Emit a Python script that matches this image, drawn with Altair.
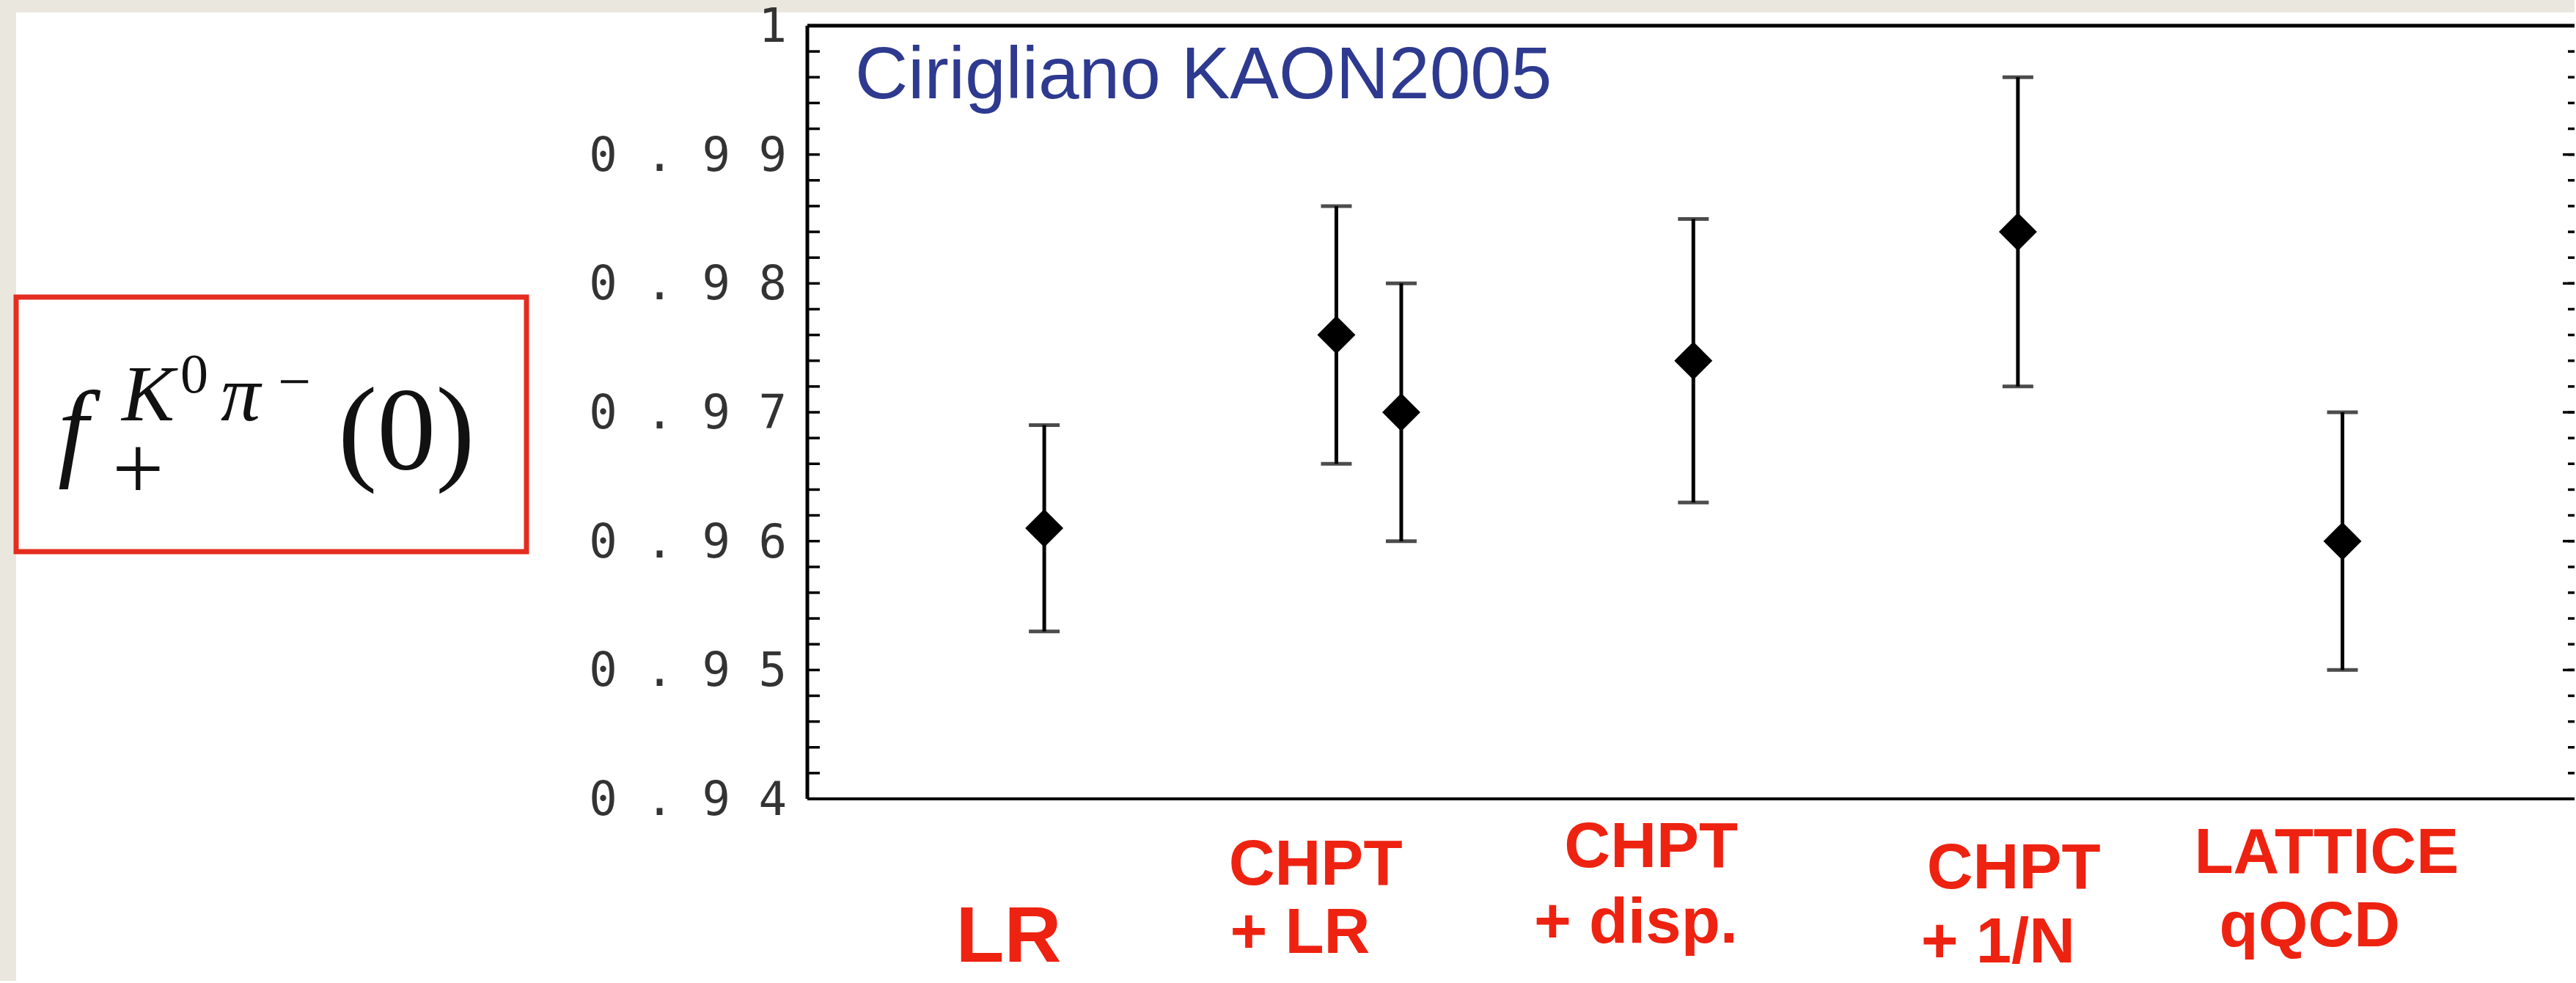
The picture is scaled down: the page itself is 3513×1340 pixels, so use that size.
import altair as alt
import pandas as pd

# ---------------- data ----------------
methods = ["LR", "CHPT + LR (a)", "CHPT + LR (b)", "CHPT + disp.", "CHPT + 1/N", "LATTICE qQCD"]
x_pos = [1.0, 1.9, 2.1, 3.0, 4.0, 5.0]
values = [0.961, 0.976, 0.970, 0.974, 0.984, 0.960]
lows = [0.953, 0.966, 0.960, 0.963, 0.972, 0.950]
highs = [0.969, 0.986, 0.980, 0.985, 0.996, 0.970]

major_ticks = [0.94, 0.95, 0.96, 0.97, 0.98, 0.99, 1.0]
tick_labels = ["0.94", "0.95", "0.96", "0.97", "0.98", "0.99", "1"]
minor_ticks = [round(0.94 + 0.002 * i, 3) for i in range(31)]

# category labels under the plot (text, centre in x-data units)
label_text = ["LR", "CHPT", "+ LR", "CHPT", "+ disp.", "CHPT", "+ 1/N", "LATTICE", "qQCD"]
label_x = [0.89, 1.836, 1.788, 2.87, 2.823, 3.987, 3.939, 4.951, 4.899]

title_text = "Cirigliano KAON2005"

# ---------------- layout ----------------
W, H = 2410, 1054
PAD = {"left": 1101, "top": 35, "right": 0, "bottom": 248}
label_baseline = [1276, 1171, 1264, 1147, 1250, 1176, 1277, 1155, 1255]
label_size = [108, 87, 87, 87, 87, 87, 87, 87, 87]

xscale = alt.Scale(domain=[0.27, 0.27 + W / 442.6], nice=False, zero=False)
yscale = alt.Scale(domain=[0.94, 1.0], nice=False, zero=False)

df = pd.DataFrame({"method": methods, "x": x_pos, "val": values, "lo": lows, "hi": highs})
one = pd.DataFrame({"d": [0]})

BEIGE = "#EAE8DE"
layers = []

# beige page edges (top and left strips)
layers.append(alt.Chart(one).mark_rect(color=BEIGE).encode(
    x=alt.value(-1101), x2=alt.value(W + 50), y=alt.value(-35), y2=alt.value(-18)))
layers.append(alt.Chart(one).mark_rect(color=BEIGE).encode(
    x=alt.value(-1101), x2=alt.value(-1079), y=alt.value(-35), y2=alt.value(H + 400)))

# red box with the formula
layers.append(alt.Chart(one).mark_rect(fill="white", fillOpacity=0, stroke="#E42C20", strokeWidth=7).encode(
    x=alt.value(22 - 1101), x2=alt.value(718 - 1101), y=alt.value(405 - 35), y2=alt.value(752 - 35)))

formula = [
    ("f", -1022, 600, 148, "italic"),
    ("K", -935, 538, 108, "italic"),
    ("0", -855, 500, 76, "normal"),
    ("\u03c0", -800, 538, 108, "italic"),
    ("\u2212", -722, 512, 80, "normal"),
    ("+", -948, 645, 125, "normal"),
    ("(0)", -640, 604, 160, "normal"),
]
for t, fx, fy, fs, st in formula:
    layers.append(alt.Chart(one).mark_text(
        text=t, font="Liberation Serif", fontSize=fs, fontStyle=st, color="#111",
        align="left", baseline="alphabetic").encode(x=alt.value(fx), y=alt.value(fy)))

# title inside plot
layers.append(alt.Chart(one).mark_text(
    text=title_text, font="Liberation Sans", fontSize=100, color="#2E3A8F",
    align="left", baseline="alphabetic").encode(x=alt.value(65), y=alt.value(99)))

# category labels
for t, lx, ly, ls in zip(label_text, label_x, label_baseline, label_size):
    layers.append(alt.Chart(pd.DataFrame({"x": [lx]})).mark_text(
        text=t, font="Liberation Sans", fontSize=ls, fontWeight="bold", color="#EE2211",
        align="center", baseline="alphabetic").encode(
        x=alt.X("x:Q", scale=xscale, axis=None), y=alt.value(ly)))

# frame: top, left and bottom lines
layers.append(alt.Chart(one).mark_rule(color="black", strokeWidth=5).encode(
    x=alt.value(0), x2=alt.value(W), y=alt.value(0)))
layers.append(alt.Chart(one).mark_rule(color="black", strokeWidth=5).encode(
    x=alt.value(0), y=alt.value(0), y2=alt.value(H)))
layers.append(alt.Chart(one).mark_rule(color="black", strokeWidth=4).encode(
    x=alt.value(0), x2=alt.value(W), y=alt.value(H)))

# inward ticks, left and right (right major ticks a bit longer)
tick_df = pd.DataFrame({"t": minor_ticks})
major_df = pd.DataFrame({"t": major_ticks})
layers.append(alt.Chart(tick_df).mark_rule(color="black", strokeWidth=3.5).encode(
    y=alt.Y("t:Q", scale=yscale, axis=None), x=alt.value(0), x2=alt.value(17)))
layers.append(alt.Chart(tick_df).mark_rule(color="black", strokeWidth=3.5).encode(
    y=alt.Y("t:Q", scale=yscale, axis=None), x=alt.value(W - 9), x2=alt.value(W)))
layers.append(alt.Chart(major_df).mark_rule(color="black", strokeWidth=3.5).encode(
    y=alt.Y("t:Q", scale=yscale, axis=None), x=alt.value(W - 16), x2=alt.value(W)))

# y tick labels (wide letter-spaced look of the original)
lab_df = pd.DataFrame({"t": major_ticks, "lab": [" ".join(s) for s in tick_labels]})
layers.append(alt.Chart(lab_df).mark_text(
    font="DejaVu Sans Mono", fontSize=64, color="#333", align="right", baseline="middle", dy=3).encode(
    y=alt.Y("t:Q", scale=yscale, axis=None), x=alt.value(-28), text="lab:N"))

# error bars
layers.append(alt.Chart(df).mark_rule(color="black", strokeWidth=5).encode(
    x=alt.X("x:Q", scale=xscale, axis=None),
    y=alt.Y("lo:Q", scale=yscale, axis=None),
    y2="hi:Q"))

# caps
for fld in ["lo", "hi"]:
    layers.append(alt.Chart(df).mark_tick(color="black", orient="horizontal", size=42, thickness=5).encode(
        x=alt.X("x:Q", scale=xscale, axis=None),
        y=alt.Y(f"{fld}:Q", scale=yscale, axis=None)))

# central values
layers.append(alt.Chart(df).mark_point(shape="diamond", filled=True, size=2700, color="black", opacity=1).encode(
    x=alt.X("x:Q", scale=xscale, axis=None),
    y=alt.Y("val:Q", scale=yscale, axis=None)))

chart = alt.layer(*layers).properties(
    width=W, height=H, padding=PAD, autosize=alt.AutoSizeParams(type="none")
).configure(background="white").configure_view(strokeWidth=0)

chart.save("out.html", embed_options={"renderer": "svg", "actions": False})
